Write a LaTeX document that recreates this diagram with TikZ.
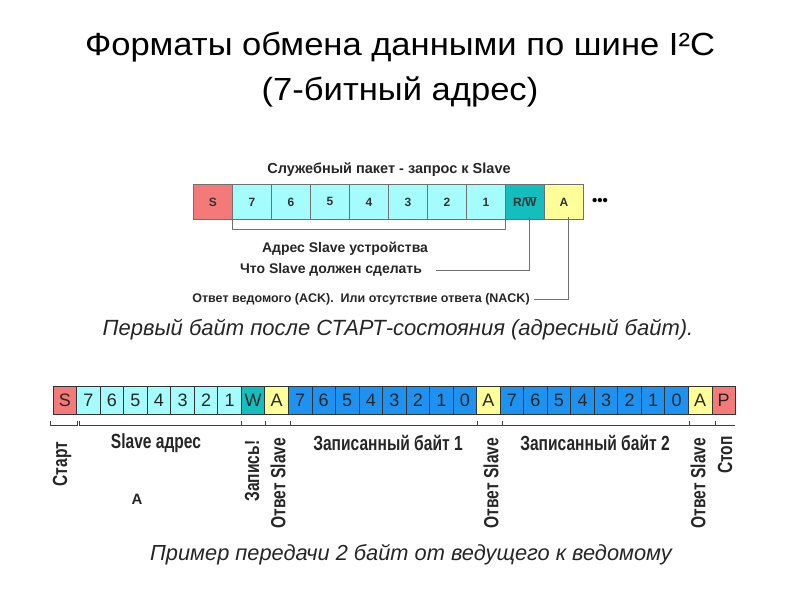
\documentclass[tikz,border=0pt]{standalone}
\usepackage{fontspec}
\setmainfont{Liberation Sans}
\newfontfamily\narrowfont[FakeStretch=0.76]{Liberation Sans}
\newfontfamily\titlefont[FakeStretch=1.08]{Liberation Sans}
\definecolor{cred}{HTML}{F47A7A}
\definecolor{ccyan}{HTML}{A4FCFC}
\definecolor{cteal}{HTML}{14BEBE}
\definecolor{cyel}{HTML}{FFFF99}
\definecolor{cblue}{HTML}{1E92F0}
\definecolor{lgray}{HTML}{707070}
\tikzset{
  topcell/.style={draw=lgray, line width=0.8pt, minimum width=39pt, minimum height=35pt, inner sep=0pt, anchor=north west, font=\fontsize{12}{13}\selectfont\bfseries, text=black!80},
  botcell/.style={draw=black!80, line width=0.8pt, minimum width=23.53pt, minimum height=28pt, inner sep=0pt, anchor=north west, font=\fontsize{18}{20}\selectfont, text=black!85},
  smalllbl/.style={font=\fontsize{14}{16}\selectfont\bfseries, text=black!85, inner sep=0pt},
  narrowlbl/.style={font=\narrowfont\fontsize{20.5}{22}\selectfont\bfseries, text=black!85, inner sep=0pt},
  conn/.style={draw=lgray, line width=0.8pt},
  bconn/.style={draw=black!75, line width=0.8pt},
}
\begin{document}
\begin{tikzpicture}[x=1pt,y=-1pt]
\useasboundingbox (0,0) rectangle (800,600);
% Title
\node[font=\titlefont\fontsize{32}{36}\selectfont] (t1) at (400,47) {Форматы обмена данными по шине I²C};
\node[font=\titlefont\fontsize{32}{36}\selectfont] (t2) at (400,92) {(7-битный адрес)};
% Top packet
\node[smalllbl, font=\fontsize{14.5}{16}\selectfont\bfseries] (ttl) at (389,170) {Служебный пакет - запрос к Slave};
\node[topcell, fill=cred] (tS) at (193,184) {S};
\foreach \d [count=\i] in {7,6,5,4,3,2,1} {
  \node[topcell, fill=ccyan] (t\d) at (193+39*\i,184) {\d};
}
\node[topcell, fill=cteal] (tRW) at (505,184) {R/$\overline{\hbox{W}}$};
\node[topcell, fill=cyel] (tA) at (544,184) {A};
\node[font=\fontsize{15}{15}\selectfont\bfseries, inner sep=0pt] (dots) at (600,202) {•••};
% brackets
\draw[conn] ([yshift=3pt]t7.south west) -- ++(0,13) coordinate (b1) -| ([yshift=3pt]tRW.south west);
\node[smalllbl] (l1) at (345,249) {Адрес Slave устройства};
\node[smalllbl] (l2) at (331,270) {Что Slave должен сделать};
\node[smalllbl, font=\fontsize{12.5}{14}\selectfont\bfseries] (l3) at (361,299) {Ответ ведомого (ACK).\ \ Или отсутствие ответа (NACK)};
\draw[conn] ([xshift=4pt,yshift=3pt]tRW.south) |- ([xshift=14pt]l2.east);
\draw[conn] ([xshift=4pt,yshift=3pt]tA.south) |- ([xshift=4pt]l3.east);
\node[font=\fontsize{22}{24}\selectfont\itshape, text=black!85] (cap1) at (398,330) {Первый байт после СТАРТ-состояния (адресный байт).};
% Bottom packet
\node[botcell, fill=cred] (bS) at (52.7,386) {S};
\foreach \d [count=\i] in {7,6,5,4,3,2,1} {
  \node[botcell, fill=ccyan] (ba\d) at (52.7+23.53*\i,386) {\d};
}
\node[botcell, fill=cteal] (bW) at (52.7+23.53*8,386) {W};
\node[botcell, fill=cyel] (bA1) at (52.7+23.53*9,386) {A};
\foreach \d [count=\i] in {7,6,5,4,3,2,1,0} {
  \node[botcell, fill=cblue] (bb\d) at (52.7+23.53*9+23.53*\i,386) {\d};
}
\node[botcell, fill=cyel] (bA2) at (52.7+23.53*18,386) {A};
\foreach \d [count=\i] in {7,6,5,4,3,2,1,0} {
  \node[botcell, fill=cblue] (bc\d) at (52.7+23.53*18+23.53*\i,386) {\d};
}
\node[botcell, fill=cyel] (bA3) at (52.7+23.53*27,386) {A};
\node[botcell, fill=cred] (bP) at (52.7+23.53*28,386) {P};
% bottom brackets
\coordinate (s1) at (50,425);
\coordinate (s2) at (77,425);
\draw[bconn] (s1) ++(0,-4) -- ++(0,4) -- (s2) -- ++(0,-4);
\coordinate (s3) at (79.5,425);
\coordinate (s4) at (735,425);
\draw[bconn] (s3) ++(0,-4) -- ++(0,4) -- (s4);
\foreach \xx in {241.7,265,290,477,502.7,689,715} {
  \draw[bconn] (\xx,421) -- (\xx,425);
}
\node[narrowlbl, rotate=90] (lst) at (62,464) {Старт};
\node[narrowlbl] (lsa) at (156,443) {Slave адрес};
\node[narrowlbl, font=\fontsize{15}{18}\selectfont\bfseries] (lA) at (137,499) {A};
\node[narrowlbl, rotate=90] (lzp) at (252,471) {Запись!};
\node[narrowlbl, rotate=90] (lo1) at (278,483) {Ответ Slave};
\node[narrowlbl] (lb1) at (388,443) {Записанный байт 1};
\node[narrowlbl, rotate=90] (lo2) at (491,483) {Ответ Slave};
\node[narrowlbl] (lb2) at (595,443) {Записанный байт 2};
\node[narrowlbl, rotate=90] (lo3) at (698,483) {Ответ Slave};
\node[narrowlbl, rotate=90] (lsp) at (725,455) {Стоп};
\node[font=\fontsize{21.8}{24}\selectfont\itshape, text=black!85] (cap2) at (411,555) {Пример передачи 2 байт от ведущего к ведомому};
\end{tikzpicture}
\end{document}
